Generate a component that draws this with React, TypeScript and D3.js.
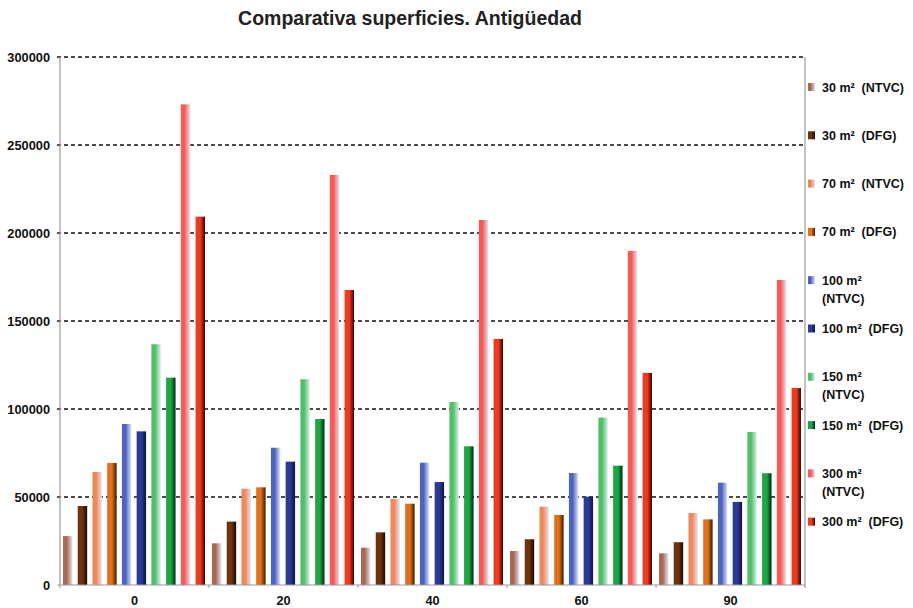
import React from "react";
import * as d3 from "d3";

const categories = ["0", "20", "40", "60", "90"];
const seriesNames = [
  ["30 m²  (NTVC)"],
  ["30 m²  (DFG)"],
  ["70 m²  (NTVC)"],
  ["70 m²  (DFG)"],
  ["100 m²", "(NTVC)"],
  ["100 m²  (DFG)"],
  ["150 m²", "(NTVC)"],
  ["150 m²  (DFG)"],
  ["300 m²", "(NTVC)"],
  ["300 m²  (DFG)"],
];
const s30NTVC = [27800, 23700, 21200, 19300, 18000];
const s30DFG = [44900, 36000, 29900, 26000, 24300];
const s70NTVC = [64200, 54700, 48900, 44500, 40900];
const s70DFG = [69300, 55500, 46200, 39800, 37300];
const s100NTVC = [91500, 78000, 69500, 63600, 58100];
const s100DFG = [87300, 70100, 58500, 50200, 47200];
const s150NTVC = [136800, 116900, 104000, 95100, 86900];
const s150DFG = [117800, 94300, 78800, 67800, 63500];
const s300NTVC = [273100, 233000, 207400, 189800, 173300];
const s300DFG = [209300, 167600, 139800, 120500, 111900];
const seriesValues = [s30NTVC, s30DFG, s70NTVC, s70DFG, s100NTVC, s100DFG, s150NTVC, s150DFG, s300NTVC, s300DFG];
const yTicks = [0, 50000, 100000, 150000, 200000, 250000, 300000];

const seriesColors = [
  { c: "#a86a55", end: "#e2e6f4", dfg: false },
  { c: "#6e3210", end: "#1a0800", dfg: true },
  { c: "#f0885a", end: "#e2e6f4", dfg: false },
  { c: "#e0701e", end: "#3a1c00", dfg: true },
  { c: "#4d63c0", end: "#e2e6f4", dfg: false },
  { c: "#2a3a95", end: "#0c1240", dfg: true },
  { c: "#4fc068", end: "#e2eef0", dfg: false },
  { c: "#1ea545", end: "#002a10", dfg: true },
  { c: "#f55a55", end: "#e2e6f4", dfg: false },
  { c: "#ef3a22", end: "#380500", dfg: true },
];

export default function App() {
  const W = 913, H = 608;
  const left = 60, right = 805, top = 57, bottom = 585;
  const font = "Liberation Sans, Arial, sans-serif";

  const y = d3.scaleLinear().domain([0, 300000]).range([bottom, top]);
  const x0 = d3.scaleBand().domain(categories).range([left, right]).paddingInner(0).paddingOuter(0);
  const x1 = d3
    .scaleBand()
    .domain(d3.range(seriesValues.length).map(String))
    .range([3, x0.bandwidth() - 4])
    .paddingInner(0.36)
    .paddingOuter(0);

  const legendY = (i: number) => 87 + i * 48.3;

  return (
    <svg width={W} height={H} style={{ position: "absolute", left: 0, top: 0, background: "#fff" }}>
      <defs>
        {seriesColors.map((s, i) => (
          <linearGradient key={i} id={`g${i}`} x1="0" x2="1" y1="0" y2="0">
            {s.dfg ? (
              <>
                <stop offset="0%" stopColor={s.c} />
                <stop offset="50%" stopColor={s.c} />
                <stop offset="100%" stopColor={s.end} />
              </>
            ) : (
              <>
                <stop offset="0%" stopColor={s.c} />
                <stop offset="40%" stopColor={s.c} />
                <stop offset="100%" stopColor={s.end} />
              </>
            )}
          </linearGradient>
        ))}
      </defs>
      <rect x={0} y={0} width={W} height={H} fill="#fff" />
      <text x={410} y={25} textAnchor="middle" fontFamily={font} fontWeight="bold" fontSize={19.5} fill="#222">
        Comparativa superficies. Antigüedad
      </text>

      {/* gridlines */}
      {yTicks.filter((t) => t > 0).map((t) => (
        <line key={t} x1={left - 3} x2={right} y1={y(t)} y2={y(t)} stroke="#111" strokeWidth={1.3} strokeDasharray="4,3" />
      ))}
      {/* y labels */}
      {yTicks.map((t) => (
        <text key={t} x={50} y={y(t) + 4.5} textAnchor="end" fontFamily={font} fontWeight="bold" fontSize={12.8} fill="#111">
          {t}
        </text>
      ))}

      {/* bars */}
      {categories.map((c, ci) => (
        <g key={c} transform={`translate(${x0(c)},0)`}>
          {seriesValues.map((vals, si) => (
            <rect
              key={si}
              x={x1(String(si))}
              y={y(vals[ci])}
              width={x1.bandwidth()}
              height={bottom - y(vals[ci])}
              fill={`url(#g${si})`}
            />
          ))}
        </g>
      ))}

      {/* axes */}
      <line x1={left} x2={left} y1={top} y2={bottom} stroke="#999" strokeWidth={1.2} />
      <line x1={right} x2={right} y1={top} y2={bottom + 3} stroke="#999" strokeWidth={1.2} />
      <line x1={left - 3} x2={right} y1={bottom} y2={bottom} stroke="#999" strokeWidth={1.2} />
      {categories.map((c) => (
        <line key={c} x1={x0(c)!} x2={x0(c)!} y1={bottom} y2={bottom + 3} stroke="#999" strokeWidth={1} />
      ))}
      {categories.map((c) => (
        <text key={c} x={x0(c)! + x0.bandwidth() / 2} y={605} textAnchor="middle" fontFamily={font} fontWeight="bold" fontSize={12.8} fill="#111">
          {c}
        </text>
      ))}

      {/* legend */}
      {seriesNames.map((lines, i) => (
        <g key={i}>
          <rect x={808} y={legendY(i) - 4} width={7} height={8} fill={`url(#g${i})`} />
          {lines.map((ln, li) => (
            <text
              key={li}
              x={822}
              y={legendY(i) + 4.5 + li * 18}
              fontFamily={font}
              fontWeight="bold"
              fontSize={12.5}
              fill="#111"
              style={{ whiteSpace: "pre" }}
            >
              {ln}
            </text>
          ))}
        </g>
      ))}
    </svg>
  );
}
